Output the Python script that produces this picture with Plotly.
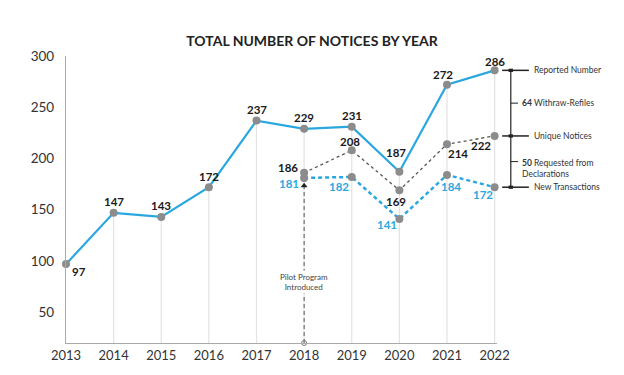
import plotly.graph_objects as go

years = [2013, 2014, 2015, 2016, 2017, 2018, 2019, 2020, 2021, 2022]
reported = [97, 147, 143, 172, 237, 229, 231, 187, 272, 286]
pilot_years = [2018, 2019, 2020, 2021, 2022]
unique = [186, 208, 169, 214, 222]
new_tx = [181, 182, 141, 184, 172]
y_ticks = [50, 100, 150, 200, 250, 300]
pilot_year = 2018

# label offsets (px) — styling only
rep_off = [(13, -7), (0, 11), (0, 11), (0, 11), (0, 11), (0, 11), (0, 11), (-3, 19), (-4, 10), (0, 9)]
uni_off = [(-16, 5), (-2, 9), (-3, -11), (11, -9), (-14, -10)]
new_off = [(-15, -6), (-13, -10), (-12, -6), (4, -12), (-12, -7)]

BLUE = "#2aa7df"
GREY = "#8c8c8c"
YMIN, YMAX = 20, 300
FONT = "Lato"
OFF = 8  # page body margin compensation

fig = go.Figure()

# drop lines from axis to reported points
dx, dy = [], []
for x, v in zip(years[1:], reported[1:]):
    dx += [x, x, None]
    dy += [YMIN, v, None]
fig.add_trace(go.Scatter(x=dx, y=dy, mode="lines", line=dict(color="#e3e3e3", width=1.2),
                         hoverinfo="skip", showlegend=False))

# pilot program dashed line
pv = new_tx[pilot_years.index(pilot_year)]
fig.add_trace(go.Scatter(x=[pilot_year, pilot_year], y=[YMIN, pv - 7], mode="lines",
                         line=dict(color="#555", width=1, dash="4px,3px"),
                         hoverinfo="skip", showlegend=False, cliponaxis=False))
fig.add_trace(go.Scatter(x=[pilot_year], y=[pv - 7.5], mode="markers",
                         marker=dict(symbol="triangle-up", size=6, color="#222"),
                         hoverinfo="skip", showlegend=False, cliponaxis=False))
fig.add_trace(go.Scatter(x=[pilot_year], y=[YMIN], mode="markers",
                         marker=dict(symbol="circle-open", size=5, color="#777", line=dict(width=1)),
                         hoverinfo="skip", showlegend=False, cliponaxis=False))

# series
fig.add_trace(go.Scatter(x=pilot_years, y=unique, mode="lines+markers",
                         line=dict(color="#555", width=1.3, dash="dot"),
                         marker=dict(color=GREY, size=8), showlegend=False, cliponaxis=False))
fig.add_trace(go.Scatter(x=pilot_years, y=new_tx, mode="lines+markers",
                         line=dict(color=BLUE, width=2.5, dash="4px,3px"),
                         marker=dict(color=GREY, size=8), showlegend=False, cliponaxis=False))
fig.add_trace(go.Scatter(x=years, y=reported, mode="lines+markers",
                         line=dict(color=BLUE, width=2.2),
                         marker=dict(color=GREY, size=8), showlegend=False, cliponaxis=False))

ann = []
def lab(x, y, t, off, color):
    ann.append(dict(x=x, y=y, text=f"<b>{t}</b>", showarrow=False, xshift=off[0], yshift=off[1],
                    font=dict(family=FONT, size=11.5, color=color)))

for x, v, o in zip(years, reported, rep_off):
    lab(x, v, v, o, "#1a1a1a")
for x, v, o in zip(pilot_years, unique, uni_off):
    lab(x, v, v, o, "#1a1a1a")
for x, v, o in zip(pilot_years, new_tx, new_off):
    lab(x, v, v, o, BLUE)

# pilot text
ann.append(dict(x=pilot_year, y=80, text="Pilot Program<br>Introduced", showarrow=False,
                bgcolor="white", font=dict(family=FONT, size=8, color="#444")))

# right bracket
top, mid, bot = reported[-1], unique[-1], new_tx[-1]
BX = 1.032
shapes = [dict(type="line", xref="paper", yref="y", x0=BX, x1=BX, y0=bot, y1=top,
               line=dict(color="#222", width=1.2))]
for v in (top, mid, bot):
    shapes.append(dict(type="line", xref="paper", yref="y", x0=1.012, x1=1.074, y0=v, y1=v,
                       line=dict(color="#222", width=1.5)))
    shapes.append(dict(type="rect", xref="paper", yref="y", x0=BX - 0.005, x1=BX + 0.005,
                       y0=v - 1.6, y1=v + 1.6, fillcolor="#222", line=dict(width=0)))
for v in ((top + mid) / 2, (mid + bot) / 2):
    shapes.append(dict(type="line", xref="paper", yref="y", x0=BX, x1=1.049, y0=v, y1=v,
                       line=dict(color="#222", width=1)))

for v, t in ((top, "Reported Number"), (mid, "Unique Notices"), (bot, "New Transactions")):
    ann.append(dict(xref="paper", x=1.081, y=v, text=t, xanchor="left", showarrow=False,
                    font=dict(family=FONT, size=8.5, color="#333")))
ann.append(dict(xref="paper", x=1.054, y=(top + mid) / 2, xanchor="left", showarrow=False,
                text=f"<b>{top - mid}</b> Withraw-Refiles", font=dict(family=FONT, size=8.5, color="#333")))
ann.append(dict(xref="paper", x=1.054, y=(mid + bot) / 2, xanchor="left", yanchor="top", yshift=6,
                align="left", showarrow=False,
                text=f"<b>{mid - bot}</b> Requested from<br>Declarations",
                font=dict(family=FONT, size=8.5, color="#333")))

fig.update_layout(
    width=624, height=375,
    margin=dict(l=66 - OFF, r=127 + OFF, t=56 - OFF, b=32 + OFF),
    paper_bgcolor="white", plot_bgcolor="white",
    title=dict(text="<b>TOTAL NUMBER OF NOTICES BY YEAR</b>", x=(312 - OFF) / 624, xanchor="center",
               xref="container",
               y=1 - (41 - OFF) / 375, yanchor="middle",
               font=dict(family=FONT, size=14, color="#222")),
    xaxis=dict(range=[2013, 2022.05], tickvals=years, showgrid=False, zeroline=False,
               showline=True, linecolor="#aaa", linewidth=1.2, ticks="",
               tickfont=dict(family=FONT, size=13, color="#333")),
    yaxis=dict(range=[YMIN, YMAX], tickvals=y_ticks, showgrid=False, zeroline=False,
               showline=True, linecolor="#aaa", linewidth=1.2, ticks="",
               ticklabelstandoff=8,
               tickfont=dict(family=FONT, size=13.5, color="#333")),
    annotations=ann, shapes=shapes,
)

fig.write_html("out.html")
